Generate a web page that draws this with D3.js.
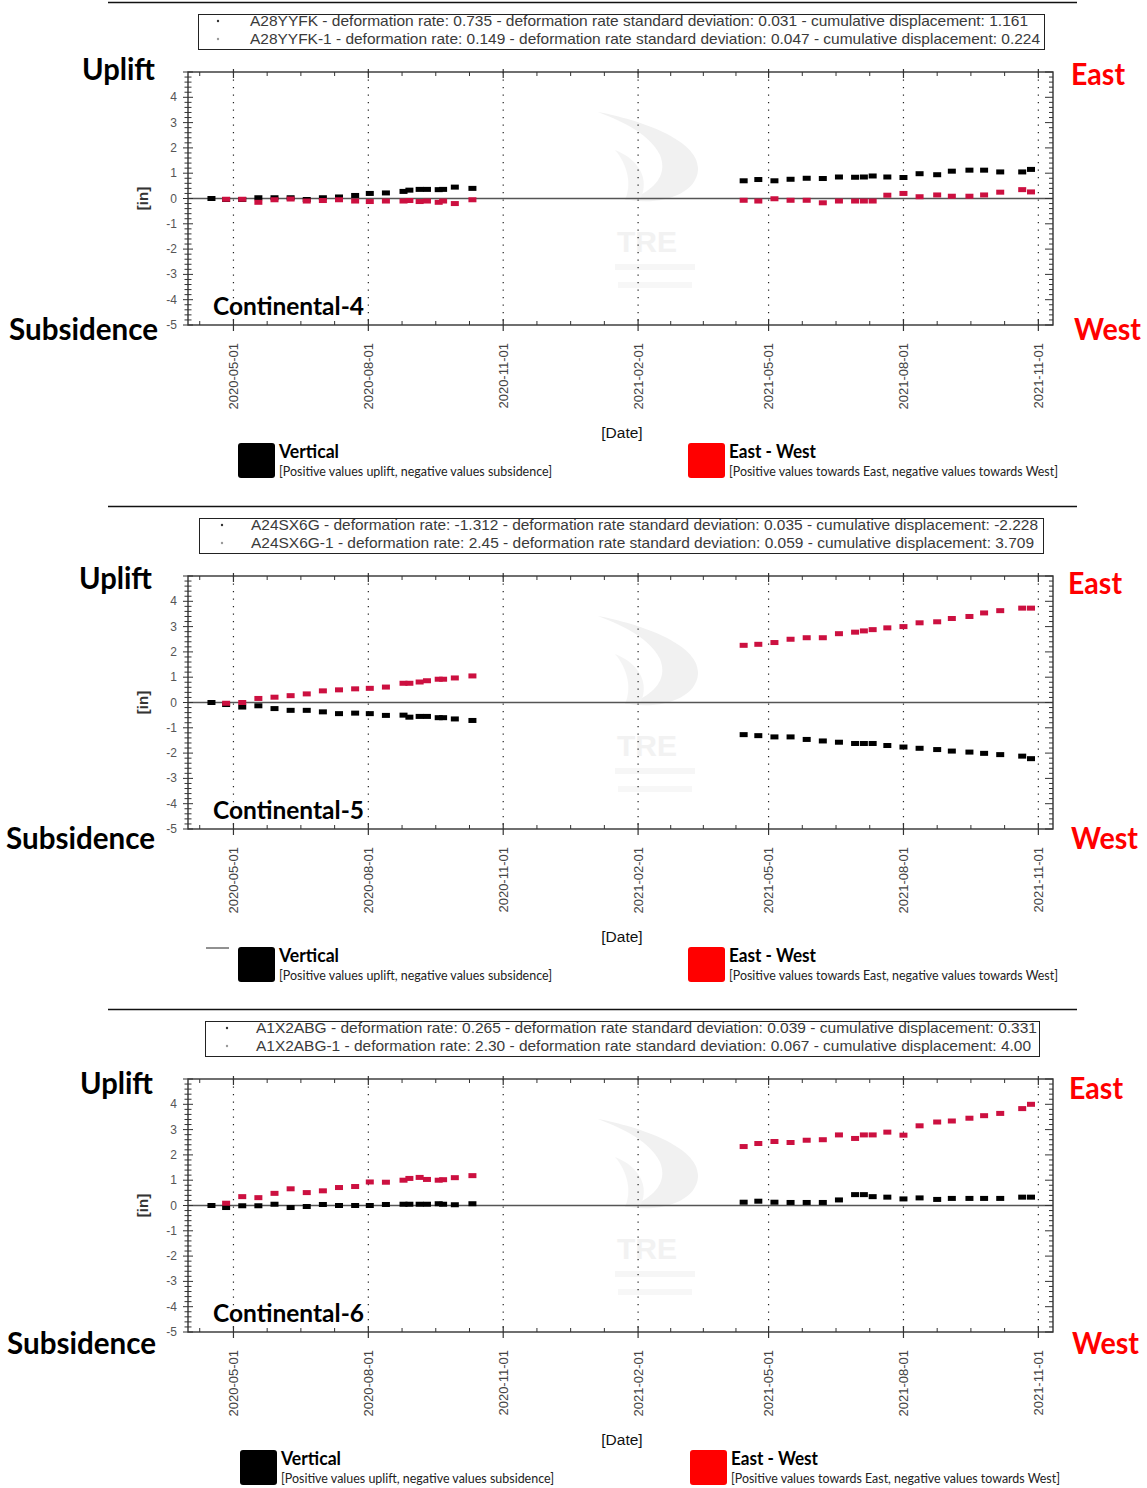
<!DOCTYPE html>
<html><head><meta charset="utf-8">
<script src="https://cdn.jsdelivr.net/npm/d3@7"></script>
<style>body{margin:0;background:#fff}svg{display:block}</style>
</head><body><svg id="c" width="1147" height="1488"></svg>
<script>
// ---------------- DATA ----------------
const dates = [
 "2020-04-16","2020-04-26","2020-05-07","2020-05-18","2020-05-29","2020-06-09","2020-06-20","2020-07-01","2020-07-12","2020-07-23",
 "2020-08-02","2020-08-13","2020-08-25","2020-08-29","2020-09-05","2020-09-10","2020-09-18","2020-09-21","2020-09-29","2020-10-11",
 "2021-04-14","2021-04-24","2021-05-05","2021-05-16","2021-05-27","2021-06-07","2021-06-18","2021-06-29","2021-07-05","2021-07-11",
 "2021-07-21","2021-08-01","2021-08-12","2021-08-24","2021-09-03","2021-09-15","2021-09-25","2021-10-06","2021-10-21","2021-10-27"
];
const panelNames = ["Continental-4","Continental-5","Continental-6"];
const legendLines = [
 ["A28YYFK - deformation rate: 0.735 - deformation rate standard deviation: 0.031 - cumulative displacement: 1.161",
  "A28YYFK-1 - deformation rate: 0.149 - deformation rate standard deviation: 0.047 - cumulative displacement: 0.224"],
 ["A24SX6G - deformation rate: -1.312 - deformation rate standard deviation: 0.035 - cumulative displacement: -2.228",
  "A24SX6G-1 - deformation rate: 2.45 - deformation rate standard deviation: 0.059 - cumulative displacement: 3.709"],
 ["A1X2ABG - deformation rate: 0.265 - deformation rate standard deviation: 0.039 - cumulative displacement: 0.331",
  "A1X2ABG-1 - deformation rate: 2.30 - deformation rate standard deviation: 0.067 - cumulative displacement: 4.00"]
];
// Vertical series (black) per panel
const vertical4 = [0.00,-0.04,-0.04,0.03,0.03,0.03,-0.04,0.03,0.06,0.12,0.20,0.22,0.28,0.33,0.36,0.36,0.35,0.36,0.45,0.40,
                   0.70,0.75,0.70,0.76,0.80,0.79,0.85,0.84,0.85,0.89,0.85,0.83,0.98,0.94,1.08,1.12,1.12,1.05,1.05,1.15];
const vertical5 = [0.00,-0.08,-0.18,-0.13,-0.24,-0.31,-0.31,-0.37,-0.44,-0.42,-0.44,-0.51,-0.50,-0.58,-0.55,-0.55,-0.60,-0.60,-0.65,-0.71,
                   -1.27,-1.31,-1.36,-1.36,-1.46,-1.52,-1.57,-1.62,-1.62,-1.62,-1.70,-1.76,-1.81,-1.86,-1.92,-1.96,-2.01,-2.06,-2.12,-2.22];
const vertical6 = [0.00,-0.08,-0.01,-0.01,0.05,-0.08,-0.04,0.04,0.00,0.00,0.00,0.04,0.05,0.05,0.05,0.05,0.07,0.05,0.03,0.07,
                   0.13,0.17,0.13,0.12,0.12,0.12,0.22,0.43,0.43,0.35,0.33,0.26,0.30,0.24,0.28,0.28,0.28,0.28,0.33,0.33];
// East-West series (red) per panel
const eastWest4 = [null,-0.03,-0.03,-0.15,-0.05,-0.02,-0.10,-0.08,-0.05,-0.10,-0.12,-0.10,-0.10,-0.08,-0.12,-0.10,-0.15,-0.10,-0.20,-0.05,
                   -0.07,-0.10,-0.01,-0.07,-0.07,-0.17,-0.10,-0.10,-0.10,-0.10,0.13,0.20,0.07,0.14,0.09,0.09,0.14,0.25,0.35,0.26];
const eastWest5 = [null,-0.03,0.00,0.16,0.21,0.27,0.34,0.46,0.50,0.54,0.56,0.61,0.76,0.76,0.81,0.86,0.92,0.92,0.97,1.05,
                   2.26,2.30,2.37,2.50,2.56,2.56,2.72,2.78,2.83,2.88,2.95,3.00,3.15,3.19,3.32,3.40,3.54,3.63,3.73,3.73];
const eastWest6 = [null,0.09,0.35,0.31,0.48,0.66,0.51,0.58,0.71,0.75,0.93,0.92,1.00,1.07,1.11,1.03,1.00,1.02,1.10,1.18,
                   2.33,2.45,2.53,2.49,2.58,2.60,2.79,2.65,2.79,2.79,2.90,2.78,3.15,3.30,3.34,3.45,3.55,3.64,3.83,4.00];
const yTickValues = [-5,-4,-3,-2,-1,0,1,2,3,4];
const xTickLabels = ["2020-05-01","2020-08-01","2020-11-01","2021-02-01","2021-05-01","2021-08-01","2021-11-01"];
const xDomain = ["2020-03-31","2021-11-11"];
const yDomain = [-5, 5];
const seriesNames = ["Vertical","East - West"];
const seriesNotes = ["[Positive values uplift, negative values subsidence]","[Positive values towards East, negative values towards West]"];
const sideLabels = ["Uplift","Subsidence","East","West"];
const yAxisTitle = "[in]";
const xAxisTitle = "[Date]";
const watermark = "TRE";

// ---------------- LAYOUT ----------------
const verticalSeries = [vertical4, vertical5, vertical6];
const eastWestSeries = [eastWest4, eastWest5, eastWest6];
const parse = d3.timeParse("%Y-%m-%d");
const svg = d3.select("#c");
const L = {left:188, right:1053, top:72, bottom:325};
const offsets = [0, 504, 1007];
const boxX = [[198,1044],[199,1043],[205,1039]];
const textX = [250,251,256];
const textW = [[778,790],[787,783],[781,775]];
const dotX = [218,222,227];
const sideShift = [[0,0],[-3,5],[-2,7]];
const legShift = [0,0,2];
const BLACK = "#000", RED = "#cc1040";
const labelFont = "Lato, 'Open Sans', sans-serif";
const arial = "'Liberation Sans', Arial, sans-serif";

const x = d3.scaleTime().domain(xDomain.map(parse)).range([L.left, L.right]);

// minor ticks: quarter divisions between majors
const majors = xTickLabels.map(parse);
const minorX = [];
{
  const px = majors.map(d => x(d));
  const step = (px[1]-px[0])/4;
  for (let k=1;k<4;k++){ const v = px[0]-k*step; if (v>L.left) minorX.push(v); }
  for (let i=0;i<px.length-1;i++){ const s=(px[i+1]-px[i])/4; for(let k=1;k<4;k++) minorX.push(px[i]+k*s); }
  const sl = (px[px.length-1]-px[px.length-2])/4;
  for (let k=1;k<4;k++){ const v = px[px.length-1]+k*sl; if (v<L.right) minorX.push(v); }
}

offsets.forEach((oy, p) => {
  const g = svg.append("g").attr("transform", `translate(0,${oy})`);
  const y = d3.scaleLinear().domain(yDomain).range([L.bottom, L.top]);

  // top separator
  g.append("line").attr("x1",108).attr("x2",1077).attr("y1",2.5).attr("y2",2.5).attr("stroke","#111").attr("stroke-width",1.5);

  // faint watermark
  const wm = g.append("g").attr("opacity",0.55);
  wm.append("path").attr("d","M598,112 C640,120 700,140 698,170 C696,195 660,205 630,200 C655,190 668,175 660,155 C650,135 625,122 598,112 Z")
    .attr("fill","#e6e6e6");
  wm.append("path").attr("d","M615,150 C640,160 650,180 640,200 L625,200 C632,185 628,165 615,150 Z").attr("fill","#ececec");
  wm.append("text").attr("x",647).attr("y",252).attr("text-anchor","middle").attr("font-family",arial)
    .attr("font-weight","bold").attr("font-size",30).attr("fill","#e8e8e8").text(watermark);
  wm.append("rect").attr("x",615).attr("y",264).attr("width",80).attr("height",6).attr("fill","#efefef");
  wm.append("rect").attr("x",618).attr("y",282).attr("width",74).attr("height",6).attr("fill","#f1f1f1");

  // legend box
  g.append("rect").attr("x",boxX[p][0]+0.5).attr("y",14.5).attr("width",boxX[p][1]-boxX[p][0]).attr("height",35)
    .attr("fill","none").attr("stroke","#222").attr("stroke-width",1);
  legendLines[p].forEach((t,i) => {
    g.append("circle").attr("cx",dotX[p]).attr("cy",21+i*18).attr("r",1.2).attr("fill", i===0?"#333":"#999");
    g.append("text").attr("x",textX[p]).attr("y",26+i*18).attr("font-family",arial).attr("font-size",14.5)
      .attr("fill","#3a3a3a").attr("textLength",textW[p][i]).attr("lengthAdjust","spacingAndGlyphs").text(t);
  });

  // grid verticals
  g.selectAll(".grid").data(majors).enter().append("line")
    .attr("x1",d=>x(d)).attr("x2",d=>x(d)).attr("y1",L.top).attr("y2",L.bottom)
    .attr("stroke","#222").attr("stroke-width",1.2).attr("stroke-dasharray","1.3,6.2");

  // zero line
  g.append("line").attr("x1",L.left).attr("x2",L.right).attr("y1",y(0)).attr("y2",y(0))
    .attr("stroke","#555").attr("stroke-width",1.6);

  // frame
  g.append("rect").attr("x",L.left).attr("y",L.top).attr("width",L.right-L.left).attr("height",L.bottom-L.top)
    .attr("fill","none").attr("stroke","#333").attr("stroke-width",1.4);

  // y ticks (left crossing, right inward)
  const yMinor = d3.range(-5, 5.0001, 0.2);
  yMinor.forEach(v => {
    const isMajor = Math.abs(v - Math.round(v)) < 1e-6;
    const yy = y(v);
    g.append("line").attr("x1",L.left-(isMajor?5:3.5)).attr("x2",L.left+(isMajor?5:3.5)).attr("y1",yy).attr("y2",yy)
      .attr("stroke","#333").attr("stroke-width",1);
    g.append("line").attr("x1",L.right-(isMajor?8:4)).attr("x2",L.right).attr("y1",yy).attr("y2",yy)
      .attr("stroke","#333").attr("stroke-width",1);
  });
  g.selectAll(".yl").data(yTickValues).enter().append("text")
    .attr("x",177).attr("y",d=>y(d)+4).attr("text-anchor","end").attr("font-family",arial).attr("font-size",12)
    .attr("fill","#555").text(d=>String(d));

  // x ticks
  minorX.forEach(v => {
    g.append("line").attr("x1",v).attr("x2",v).attr("y1",L.top).attr("y2",L.top+4).attr("stroke","#333");
    g.append("line").attr("x1",v).attr("x2",v).attr("y1",L.bottom-4).attr("y2",L.bottom).attr("stroke","#333");
  });
  majors.forEach(d => {
    const v = x(d);
    g.append("line").attr("x1",v).attr("x2",v).attr("y1",L.top-3).attr("y2",L.top+6).attr("stroke","#333").attr("stroke-width",1.2);
    g.append("line").attr("x1",v).attr("x2",v).attr("y1",L.bottom-6).attr("y2",L.bottom+6).attr("stroke","#333").attr("stroke-width",1.2);
  });
  g.selectAll(".xl").data(xTickLabels).enter().append("text")
    .attr("transform",d=>`translate(${x(parse(d))+4.5},${L.bottom+18}) rotate(-90)`)
    .attr("text-anchor","end").attr("font-family",arial).attr("font-size",13).attr("fill","#444").text(d=>d);

  // axis titles
  g.append("text").attr("transform",`translate(148,${y(0)}) rotate(-90)`).attr("text-anchor","middle")
    .attr("font-family",arial).attr("font-weight","bold").attr("font-size",15).attr("fill","#333").text(yAxisTitle);
  g.append("text").attr("x",622).attr("y",438).attr("text-anchor","middle")
    .attr("font-family",arial).attr("font-size",15.5).attr("fill","#111").text(xAxisTitle);

  // data marks
  const pts = (arr) => dates.map((d,i)=>({d:parse(d), v:arr[i]})).filter(o=>o.v!==null);
  g.selectAll(".bv").data(pts(verticalSeries[p])).enter().append("rect")
    .attr("x",o=>x(o.d)-4).attr("y",o=>y(o.v)-2.5).attr("width",8).attr("height",5).attr("fill",BLACK);
  g.selectAll(".ew").data(pts(eastWestSeries[p])).enter().append("rect")
    .attr("x",o=>x(o.d)-4).attr("y",o=>y(o.v)-2.5).attr("width",8).attr("height",5).attr("fill",RED);

  // side labels
  const sx = sideShift[p][0], sy = sideShift[p][1];
  const side = (t, xx, yy, w, col) => g.append("text").attr("x",xx).attr("y",yy).attr("font-family",labelFont)
    .attr("font-weight","bold").attr("font-size",30).attr("fill",col)
    .attr("textLength",w).attr("lengthAdjust","spacingAndGlyphs").text(t);
  side(sideLabels[0], 82+sx, 80+sy, 73, "#000");
  side(sideLabels[1], 9+sx, 340+sy, 149, "#000");
  side(sideLabels[2], 1071+sx, 85+sy, 54, "#f00");
  side(sideLabels[3], 1074+sx, 340+sy, 67, "#f00");
  g.append("text").attr("x",213).attr("y",315).attr("font-family",labelFont).attr("font-weight","bold")
    .attr("font-size",25).attr("fill","#000").attr("textLength",151).attr("lengthAdjust","spacingAndGlyphs").text(panelNames[p]);

  // bottom legend
  const lx = legShift[p];
  if (p === 1) g.append("line").attr("x1",206).attr("x2",229).attr("y1",444).attr("y2",444).attr("stroke","#222").attr("stroke-width",1);
  [[238,BLACK],[688,"#f00"]].forEach(([bx,col],i)=>{
    g.append("rect").attr("x",bx+lx).attr("y",443).attr("width",37).attr("height",35).attr("rx",3).attr("fill",col);
    g.append("text").attr("x",bx+lx+41).attr("y",458).attr("font-family",labelFont).attr("font-weight","bold")
      .attr("font-size",18).attr("fill","#000").attr("textLength",i===0?60:87).attr("lengthAdjust","spacingAndGlyphs").text(seriesNames[i]);
    g.append("text").attr("x",bx+lx+41).attr("y",476).attr("font-family",labelFont)
      .attr("font-size",12.5).attr("fill","#222").attr("textLength",i===0?273:329).attr("lengthAdjust","spacingAndGlyphs").text(seriesNotes[i]);
  });
});
</script>
</body></html>
